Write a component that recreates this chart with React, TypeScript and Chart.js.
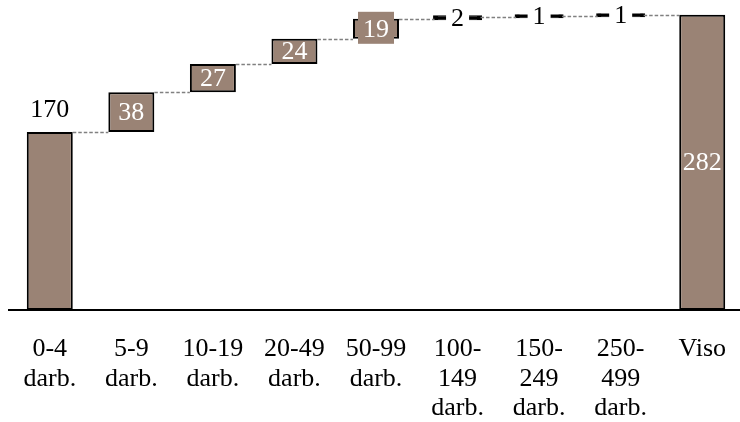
import React, { useEffect, useRef } from "react";
import { Chart, registerables } from "chart.js";

Chart.register(...registerables);

const categories: string[][] = [
  ["0-4", "darb."],
  ["5-9", "darb."],
  ["10-19", "darb."],
  ["20-49", "darb."],
  ["50-99", "darb."],
  ["100-", "149", "darb."],
  ["150-", "249", "darb."],
  ["250-", "499", "darb."],
  ["Viso"],
];
const values: number[] = [170, 38, 27, 24, 19, 2, 1, 1, 282];
const isTotal: boolean[] = [false, false, false, false, false, false, false, false, true];

const BAR_COLOR = "#9a8375";
const FONT = "'Liberation Serif', serif";

function buildRanges(): [number, number][] {
  const out: [number, number][] = [];
  let run = 0;
  values.forEach((v, i) => {
    if (isTotal[i]) {
      out.push([0, v]);
    } else {
      out.push([run, run + v]);
      run += v;
    }
  });
  return out;
}

export default function App() {
  const ref = useRef<HTMLCanvasElement | null>(null);

  useEffect(() => {
    document.body.style.margin = "0";
    document.body.style.overflow = "hidden";
    document.documentElement.style.overflow = "hidden";
    const ranges = buildRanges();

    const overlay = {
      id: "waterfallOverlay",
      afterDatasetsDraw(chart: any) {
        const ctx = chart.ctx as CanvasRenderingContext2D;
        const meta = chart.getDatasetMeta(0);
        const y = chart.scales.y;
        ctx.save();
        // connectors
        ctx.strokeStyle = "#808080";
        ctx.lineWidth = 1.5;
        ctx.setLineDash([3.5, 2]);
        for (let i = 0; i < meta.data.length - 1; i++) {
          const a = meta.data[i] as any;
          const b = meta.data[i + 1] as any;
          const level = ranges[i][1];
          const py = Math.round(y.getPixelForValue(level)) + 0.5;
          ctx.beginPath();
          ctx.moveTo(a.x + a.width / 2, py);
          ctx.lineTo(b.x - b.width / 2, py);
          ctx.stroke();
        }
        ctx.setLineDash([]);
        // labels
        ctx.font = `26px ${FONT}`;
        ctx.textAlign = "center";
        meta.data.forEach((el: any, i: number) => {
          const txt = String(values[i]);
          const top = Math.min(el.y, el.base);
          const bottom = Math.max(el.y, el.base);
          const cy = (top + bottom) / 2;
          const h = bottom - top;
          const tw = ctx.measureText(txt).width;
          if (i === 0) {
            ctx.fillStyle = "#000";
            ctx.textBaseline = "alphabetic";
            ctx.fillText(txt, el.x, top - 15);
            return;
          }
          if (h < 8) {
            ctx.fillStyle = "#fff";
            ctx.fillRect(el.x - tw / 2 - 5, cy - 15, tw + 10, 30);
            ctx.fillStyle = "#000";
          } else {
            if (h < 22) {
              ctx.fillStyle = BAR_COLOR;
              ctx.fillRect(el.x - tw / 2 - 5, cy - 17, tw + 10, 32);
            }
            ctx.fillStyle = "#fff";
          }
          ctx.textBaseline = "middle";
          ctx.fillText(txt, el.x, cy + 1);
        });
        ctx.restore();
      },
    };

    const chart = new Chart(ref.current as HTMLCanvasElement, {
      type: "bar",
      data: {
        labels: categories,
        datasets: [
          {
            data: ranges as any,
            backgroundColor: ((c: any) => (values[c.dataIndex] < 5 ? "#000" : BAR_COLOR)) as any,
            borderColor: "#000",
            borderWidth: 2,
            borderSkipped: false,
            barPercentage: 0.564,
            categoryPercentage: 1,
            inflateAmount: ((c: any) => (values[c.dataIndex] < 5 ? 1.5 : 0)) as any,
          },
        ],
      },
      options: {
        animation: false,
        responsive: false,
        devicePixelRatio: 1,
        layout: { padding: { left: 9, right: 0, top: 0, bottom: 0 } },
        plugins: {
          legend: { display: false },
          tooltip: { enabled: false },
          title: { display: false },
        },
        scales: {
          x: {
            grid: { display: false, drawTicks: false },
            border: { display: true, color: "#000", width: 2 },
            ticks: {
              color: "#000",
              padding: 25,
              maxRotation: 0,
              autoSkip: false,
              font: { family: FONT, size: 26, lineHeight: 1.12 },
            },
            afterFit: (scale: any) => {
              scale.height = 112;
              scale.paddingLeft = 0;
              scale.paddingRight = 0;
            },
          },
          y: {
            display: false,
            min: 0,
            max: 296,
          },
        },
      },
      plugins: [overlay],
    });
    return () => chart.destroy();
  }, []);

  return (
    <div style={{ width: 743, height: 422, overflow: "hidden" }}>
      <canvas ref={ref} width={743} height={422} style={{ display: "block" }} />
    </div>
  );
}
